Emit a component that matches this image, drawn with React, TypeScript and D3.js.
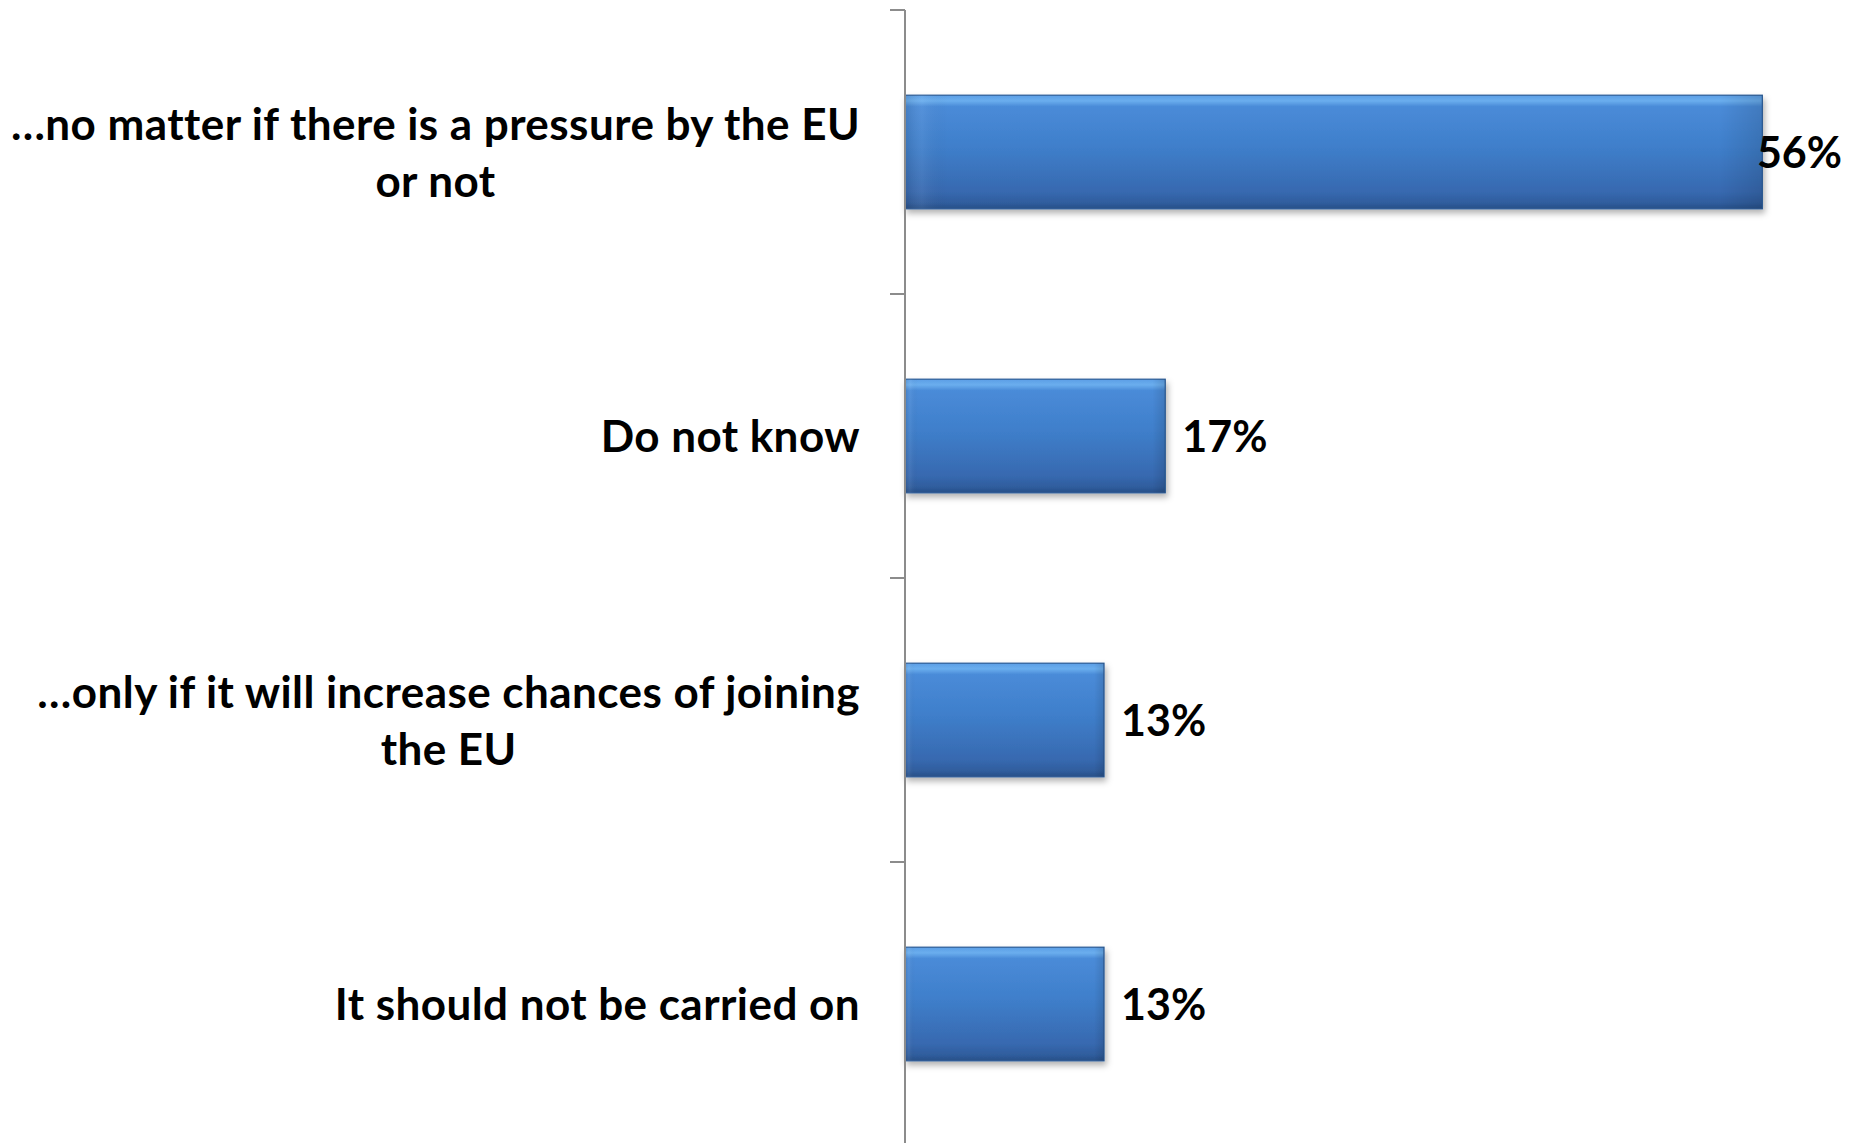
import React, { useEffect, useRef } from "react";
import * as d3 from "d3";

const categories: string[] = [
  "…no matter if there is a pressure by the EU\nor not",
  "Do not know",
  "…only if it will increase chances of joining\nthe EU",
  "It should not be carried on",
];
const values: number[] = [56, 17, 13, 13];
const valueLabels: string[] = ["56%", "17%", "13%", "13%"];

const W = 1856;
const H = 1143;

export default function App() {
  const ref = useRef<SVGSVGElement | null>(null);

  useEffect(() => {
    document.body.style.margin = "0";
    const svg = d3.select(ref.current!);
    svg.selectAll("*").remove();

    const axisX = 905;
    const top = 10;
    const step = 284;
    const y = d3
      .scaleBand<string>()
      .domain(categories)
      .range([top, top + step * categories.length])
      .paddingInner(0.6)
      .paddingOuter(0.3);
    const x = d3.scaleLinear().domain([0, 60]).range([axisX, axisX + 60 * 15.31]);

    const defs = svg.append("defs");
    const g = defs
      .append("linearGradient")
      .attr("id", "barV")
      .attr("x1", 0)
      .attr("y1", 0)
      .attr("x2", 0)
      .attr("y2", 1);
    [
      [0, "#5c9ee6"],
      [0.05, "#6aaeee"],
      [0.1, "#4a8bd8"],
      [0.45, "#3f7fcb"],
      [0.85, "#3769b0"],
      [0.95, "#2f5d9d"],
      [1, "#284f87"],
    ].forEach(([o, c]) => g.append("stop").attr("offset", o as number).attr("stop-color", c as string));

    const gh = defs
      .append("linearGradient")
      .attr("id", "barH")
      .attr("x1", 0)
      .attr("y1", 0)
      .attr("x2", 1)
      .attr("y2", 0);
    [
      [0, "rgba(0,0,0,0.10)"],
      [0.02, "rgba(255,255,255,0.06)"],
      [0.05, "rgba(0,0,0,0)"],
      [0.95, "rgba(0,0,0,0)"],
      [1, "rgba(0,0,0,0.12)"],
    ].forEach(([o, c]) => gh.append("stop").attr("offset", o as number).attr("stop-color", c as string));

    const f = defs
      .append("filter")
      .attr("id", "shadow")
      .attr("x", "-5%")
      .attr("y", "-10%")
      .attr("width", "115%")
      .attr("height", "130%");
    f.append("feDropShadow")
      .attr("dx", 2)
      .attr("dy", 4)
      .attr("stdDeviation", 3)
      .attr("flood-color", "#000")
      .attr("flood-opacity", 0.3);

    // bars
    const bars = svg.append("g");
    categories.forEach((c, i) => {
      const x0 = x(0);
      const w = x(values[i]) - x0;
      const yy = y(c)!;
      const h = y.bandwidth();
      bars
        .append("rect")
        .attr("x", x0)
        .attr("y", yy)
        .attr("width", w)
        .attr("height", h)
        .attr("fill", "url(#barV)")
        .attr("stroke", "#2b5b96")
        .attr("stroke-width", 1.2)
        .attr("filter", "url(#shadow)");
      bars
        .append("rect")
        .attr("x", x0)
        .attr("y", yy)
        .attr("width", w)
        .attr("height", h)
        .attr("fill", "url(#barH)");
    });

    // axis
    const ax = svg.append("g").attr("stroke", "#8c8c8c").attr("stroke-width", 2);
    ax.append("line").attr("x1", axisX).attr("x2", axisX).attr("y1", top).attr("y2", H + 10);
    const bounds = categories.map((c) => y(c)! - y.step() * 0.3);
    bounds.push(top + step * categories.length);
    bounds.forEach((b) => {
      ax.append("line").attr("x1", axisX - 15).attr("x2", axisX).attr("y1", b).attr("y2", b);
    });

    const font = "Lato, 'Open Sans', sans-serif";
    const fs = 44;
    const ls = 0.45;
    const lh = 57;
    const labelRight = 860;

    // category labels
    categories.forEach((c) => {
      const lines = c.split("\n");
      const cy = y(c)! + y.bandwidth() / 2;
      const gl = svg.append("g");
      const texts = lines.map((ln, j) =>
        gl
          .append("text")
          .attr("font-family", font)
          .attr("font-weight", 700)
          .attr("font-size", fs)
          .attr("letter-spacing", ls)
          .attr("fill", "#000")
          .attr("y", cy + 16 + (j - (lines.length - 1) / 2) * lh)
          .text(ln)
      );
      const widths = texts.map((t) => (t.node() as SVGTextElement).getComputedTextLength());
      const maxW = Math.max(...widths);
      const center = labelRight - maxW / 2;
      texts.forEach((t) => t.attr("text-anchor", "middle").attr("x", center));
    });

    // value labels
    categories.forEach((c, i) => {
      const cy = y(c)! + y.bandwidth() / 2;
      const t = svg
        .append("text")
        .attr("font-family", font)
        .attr("font-weight", 700)
        .attr("font-size", 43)
        .attr("fill", "#000")
        .attr("y", cy + 16)
        .attr("x", x(values[i]) + 17)
        .text(valueLabels[i]);
      const tw = (t.node() as SVGTextElement).getComputedTextLength();
      if (x(values[i]) + 17 + tw > W - 14) {
        t.attr("text-anchor", "end").attr("x", W - 14);
      }
    });
  }, []);

  return (
    <svg
      ref={ref}
      width={W}
      height={H}
      style={{ position: "absolute", left: 0, top: 0, background: "#fff" }}
    />
  );
}
